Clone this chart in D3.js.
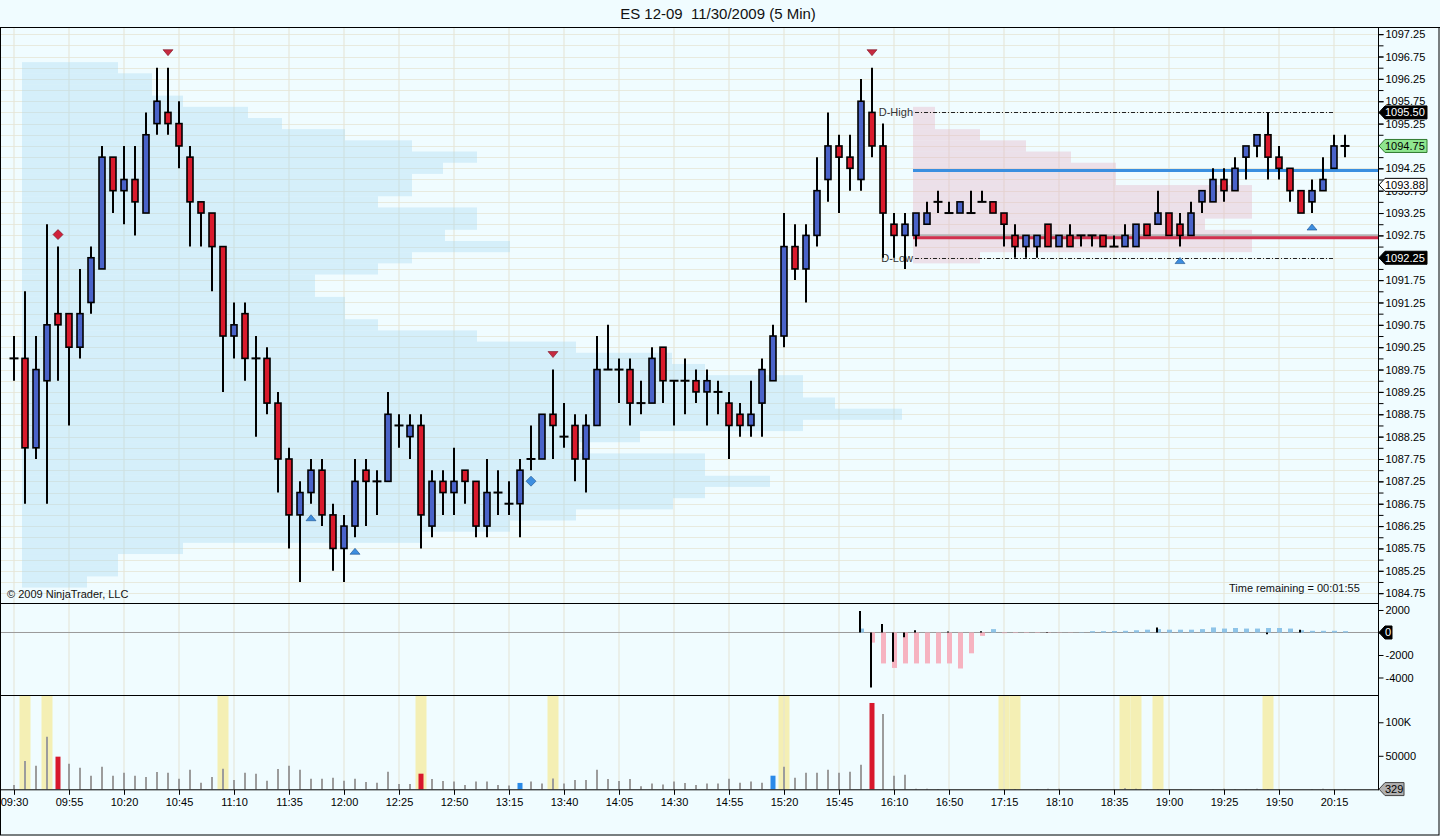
<!DOCTYPE html>
<html>
<head>
<meta charset="utf-8">
<script src="https://cdn.jsdelivr.net/npm/d3@7"></script>
<style>
  body { margin: 0; background: #f0fcff; }
  svg text { font-family: "Liberation Sans", Arial, sans-serif; }
</style>
</head>
<body>
<svg id="chart" width="1440" height="836"></svg>
<script>
// ES 12-09 5 min bars, 11/30/2009
const timeLabels = ["09:30","09:55","10:20","10:45","11:10","11:35","12:00","12:25","12:50","13:15","13:40","14:05","14:30","14:55","15:20","15:45","16:10","16:50","17:15","18:10","18:35","19:00","19:25","19:50","20:15"];

const opens = [1090,1090,1088,1089.5,1091,1091,1090.25,1091.25,1092,1094.5,
  1093.75,1094,1093.25,1095.25,1095.5,1095.25,1094.5,1093.5,1093.25,1092.5,
  1090.5,1091,1090,1090,1089,1087.75,1086.5,1087,1087.5,1086.5,
  1085.75,1086.25,1087.5,1087.25,1087.25,1088.5,1088.25,1088.5,1086.25,1087.25,
  1087,1087.5,1087.25,1086.25,1087,1086.75,1086.75,1087.75,1087.75,1088.75,
  1088.25,1088.5,1087.75,1088.5,1089.75,1089.75,1089.75,1089,1089,1090.25,
  1089.5,1089.5,1089.5,1089.25,1089.25,1089,1088.75,1088.5,1089,1089.5,
  1090.5,1092.5,1092,1092.75,1094,1094.75,1094.5,1094,1095.5,1094.75,
  1093,1092.75,1092.75,1093,1093.5,1093.25,1093.25,1093.25,1093.5,1093.5,
  1093.25,1092.75,1092.5,1092.5,1093,1092.5,1092.75,1092.75,1092.75,1092.75,
  1092.5,1092.5,1092.5,1093,1093,1093.25,1093,1092.75,1093.5,1093.5,
  1094,1093.75,1094.5,1094.75,1095,1094.5,1094.25,1093.75,1093.5,1093.75,
  1094.25,1094.75];
const highs = [1090.5,1091.5,1090.5,1093,1092.5,1091,1092,1092.5,1094.75,1094.5,
  1094.75,1094.75,1095.5,1096.5,1096.5,1095.75,1094.75,1093.5,1093.25,1092.5,
  1091.25,1091.25,1090.5,1090.25,1089.25,1088,1087.25,1087.75,1087.75,1086.75,
  1086.5,1087.75,1087.75,1087.5,1089.25,1088.75,1088.75,1088.75,1087.5,1087.5,
  1088,1087.5,1087.25,1087.75,1087.5,1087.25,1087.75,1088.5,1088.75,1089.75,
  1089,1088.75,1088.75,1090.5,1090.75,1090,1090,1089.5,1090.25,1090.25,
  1089.5,1090,1089.75,1089.75,1089.5,1089.25,1089,1089.5,1090,1090.75,
  1093.25,1093,1093,1094.5,1095.5,1095,1095,1096.25,1096.5,1095.25,
  1093.25,1093.25,1093.25,1093.5,1093.75,1093.5,1093.5,1093.75,1093.75,1093.5,
  1093.25,1093,1092.75,1092.75,1093,1092.75,1093,1092.75,1092.75,1092.75,
  1092.75,1093,1093,1093,1093.75,1093.25,1093.25,1093.5,1093.75,1094.25,
  1094.25,1094.5,1094.75,1095,1095.5,1094.75,1094.25,1093.75,1094,1094.5,
  1095,1095];
const lows = [1089.5,1086.75,1087.75,1086.75,1089.5,1088.5,1090,1091,1092,1093.25,
  1093,1092.75,1093.25,1095,1095,1094.25,1092.5,1092.5,1091.5,1089.25,
  1090,1089.5,1088.25,1088.75,1087,1085.75,1085,1086.75,1086.25,1085.25,
  1085,1086,1086.25,1086.5,1087.25,1088,1087.75,1085.75,1086,1086.5,
  1086.5,1086.75,1086,1086,1086.5,1086.5,1086,1087.5,1087.75,1087.75,
  1088,1087.25,1087,1088.5,1089.75,1089,1088.5,1088.75,1089,1089,
  1088.5,1088.75,1089,1088.5,1088.75,1087.75,1088.25,1088.25,1088.25,1089.5,
  1090.25,1091.75,1091.25,1092.5,1093.5,1093.25,1093.75,1093.75,1094.5,1092.25,
  1092.25,1092,1092.5,1093,1093.25,1093.25,1093.25,1093.25,1093.5,1093.25,
  1092.5,1092.25,1092.25,1092.25,1092.5,1092.5,1092.5,1092.5,1092.5,1092.5,
  1092.5,1092.5,1092.5,1092.75,1093,1092.75,1092.5,1092.75,1093.25,1093.5,
  1093.5,1093.75,1094,1094.5,1094,1094,1093.5,1093.25,1093.25,1093.75,
  1094.25,1094.5];
const closes = [1090,1088,1089.75,1090.75,1090.75,1090.25,1091,1092.25,1094.5,1093.75,
  1094,1093.5,1095,1095.75,1095.25,1094.75,1093.5,1093.25,1092.5,1090.5,
  1090.75,1090,1090,1089,1087.75,1086.5,1087,1087.5,1086.5,1085.75,
  1086.25,1087.25,1087.25,1087.25,1088.75,1088.5,1088.5,1086.5,1087.25,1087,
  1087.25,1087.25,1086.25,1087,1087,1086.75,1087.5,1087.75,1088.75,1088.5,
  1088.25,1087.75,1088.5,1089.75,1089.75,1089.75,1089,1089,1090,1089.5,
  1089.5,1089.5,1089.25,1089.5,1089.25,1088.5,1088.5,1088.75,1089.75,1090.5,
  1092.5,1092,1092.75,1093.75,1094.75,1094.5,1094.25,1095.75,1094.75,1093.25,
  1092.75,1093,1093.25,1093.25,1093.5,1093.25,1093.5,1093.25,1093.5,1093.25,
  1093,1092.5,1092.75,1092.75,1092.5,1092.75,1092.5,1092.75,1092.75,1092.5,
  1092.5,1092.75,1093,1092.75,1093.25,1092.75,1092.75,1093.25,1093.75,1094,
  1093.75,1094.25,1094.75,1095,1094.5,1094.25,1093.75,1093.25,1093.75,1094,
  1094.75,1094.75];

const volumes = [6400,42200,35200,78500,48700,38200,32200,20300,33700,20300,
  24800,20300,18400,25800,24800,15800,29300,9900,18400,30700,
  13900,24800,23300,12800,30200,35200,29000,15800,15800,17300,
  12800,15800,11000,9900,26300,7900,7900,23300,15300,12300,
  11500,6400,11500,11500,6400,5500,9500,11500,8500,16300,
  8500,13900,13900,29000,15300,12300,15300,4500,8500,7000,
  11500,9500,6400,8500,8500,15800,9900,11500,9900,20300,
  33700,17300,24800,24800,29000,24800,26300,36700,128800,112400,
  20300,21800,900,700,300,200,200,150,200,250,
  600,300,200,300,800,700,200,150,200,250,
  600,1500,900,400,300,250,200,300,200,500,
  700,600,500,700,400,300,200,250,300,800,
  200,329];
const volRed = [4, 37, 78];
const volBlue = [46, 69];
const volBands = [1, 3, 19, 37, 49, 70, 90, 91, 101, 102, 104, 114];

// delta panel, starts at bar 77
const deltaStart = 77;
const deltaHist = [350,-900,-2750,-3150,-2750,-2750,-2750,-2750,-2750,-3200,
  -1850,-300,300,-60,-50,-40,-40,-30,-20,-20,
  30,120,120,130,150,200,250,300,250,250,
  250,300,450,350,400,350,350,400,400,350,
  200,150,150,150,120];
const deltaNet = [1900,-4900,750,-2600,-430,200,0,0,80,0,
  0,100,0,0,0,0,0,50,0,0,
  0,0,0,0,0,0,0,450,0,0,
  0,0,0,0,0,0,0,-150,0,0,
  250,0,0,0,0];

const markDown = [14, 49, 78];
const markUp = [27, 31, 106, 118];
const diamondRed = [4];
const diamondBlue = [47];

// volume at price, day session (blue) and evening session (pink)
const prof1Price = [1096.5,1096.25,1096,1095.75,1095.5,1095.25,1095,1094.75,1094.5,1094.25,
  1094,1093.75,1093.5,1093.25,1093,1092.75,1092.5,1092.25,1092,1091.75,
  1091.5,1091.25,1091,1090.75,1090.5,1090.25,1090,1089.75,1089.5,1089.25,
  1089,1088.75,1088.5,1088.25,1088,1087.75,1087.5,1087.25,1087,1086.75,
  1086.5,1086.25,1086,1085.75,1085.5,1085.25,1085];
const prof1Vol = [9600,13000,13000,16100,22600,26000,32300,39000,45500,42100,
  39000,39000,35600,45500,45500,42300,48800,39000,35600,29300,
  29300,32300,32300,35600,45500,55400,65000,68300,78100,78100,
  81300,88000,78100,61800,55400,68300,68300,74800,68300,65100,
  55400,48800,39800,16100,9600,9600,6500];
const prof2Price = [1095.5,1095.25,1095,1094.75,1094.5,1094.25,1094,1093.75,1093.5,1093.25,
  1093,1092.75,1092.5,1092.25];
const prof2Vol = [2200,2200,6700,11300,15800,20300,20300,33900,33900,33900,
  29200,33900,33900,6700];
const prof2Start = 82;

const dHigh = 1095.5, dLow = 1092.25;
const blueLevel = 1094.2, grayLevel = 1092.75, redLevel = 1092.7;
const lastPrice = 1094.75, markPrice = 1093.88;

// ---------------------------------------------------------------
const svg = d3.select("#chart");
const W = 1440, axisX = 1378;
const top0 = 27, priceBottom = 603, deltaBottom = 695, volBase = 789.3;

const x = d3.scaleLinear().domain([0, 121]).range([14, 1345]);
const yP = d3.scaleLinear().domain([1084.53, 1097.41]).range([priceBottom, top0]);
const yD = d3.scaleLinear().domain([-5556, 2622]).range([deltaBottom, priceBottom]);
const yV = d3.scaleLinear().domain([0, 140700]).range([volBase, deltaBottom]);
const pw = d3.scaleLinear().domain([0, 100000]).range([0, 1000]);
const step = yP(1097) - yP(1097.25);

svg.append("rect").attr("width", W).attr("height", 836).attr("fill", "#f0fcff");

// title
svg.append("text").attr("x", 718).attr("y", 19).attr("text-anchor", "middle")
  .style("font-size", "15px").style("white-space", "pre").attr("fill", "#111")
  .text("ES 12-09  11/30/2009 (5 Min)");

// volume bands (yellow)
svg.selectAll("rect.band").data(volBands).enter().append("rect")
  .attr("x", d => x(d) - 5.5).attr("width", 11)
  .attr("y", deltaBottom).attr("height", volBase - deltaBottom)
  .attr("fill", "#f4efb4");

// grid
const labelIdx = d3.range(0, 122, 5);
svg.selectAll("line.vg").data(labelIdx).enter().append("line")
  .attr("x1", d => x(d)).attr("x2", d => x(d)).attr("y1", top0).attr("y2", volBase)
  .attr("stroke", "#e4e3d4").attr("stroke-width", 1);
svg.selectAll("line.hg").data(d3.range(1084.75, 1097.3, 0.25)).enter().append("line")
  .attr("x1", 0).attr("x2", axisX).attr("y1", d => Math.round(yP(d)) + 0.5).attr("y2", d => Math.round(yP(d)) + 0.5)
  .attr("stroke", "#e6e5d6").attr("stroke-opacity", 0.8);

// profiles (semi transparent so the grid shows through)
svg.selectAll("rect.p1").data(prof1Price).enter().append("rect")
  .attr("x", 22).attr("y", d => yP(d) - step / 2)
  .attr("width", (d, i) => pw(prof1Vol[i])).attr("height", step)
  .attr("fill", "#a6d8f2").attr("fill-opacity", 0.36);
svg.selectAll("rect.p2").data(prof2Price).enter().append("rect")
  .attr("x", x(prof2Start) - 3).attr("y", d => yP(d) - step / 2)
  .attr("width", (d, i) => pw(prof2Vol[i])).attr("height", step)
  .attr("fill", "#e4b4c4").attr("fill-opacity", 0.38);

// session levels
const lx0 = x(prof2Start) - 3;
svg.append("line").attr("x1", lx0).attr("x2", axisX).attr("y1", yP(blueLevel)).attr("y2", yP(blueLevel))
  .attr("stroke", "#3a8fe0").attr("stroke-width", 3);
svg.append("line").attr("x1", lx0).attr("x2", axisX).attr("y1", yP(grayLevel)).attr("y2", yP(grayLevel))
  .attr("stroke", "#b4b4b4").attr("stroke-width", 2.5);
svg.append("line").attr("x1", lx0).attr("x2", axisX).attr("y1", yP(redLevel)).attr("y2", yP(redLevel))
  .attr("stroke", "#d2304e").attr("stroke-width", 3);
[[dHigh, "D-High"], [dLow, "D-Low"]].forEach(([p, t]) => {
  svg.append("line").attr("x1", x(prof2Start) - 1).attr("x2", x(120))
    .attr("y1", Math.round(yP(p)) + 0.5).attr("y2", Math.round(yP(p)) + 0.5)
    .attr("stroke", "#222").attr("stroke-width", 1).attr("stroke-dasharray", "4,2,1,2");
  svg.append("text").attr("x", x(prof2Start) - 3).attr("y", yP(p) + 4)
    .attr("text-anchor", "end").style("font-size", "11px").attr("fill", "#333").text(t);
});

// candles
const bars = d3.range(opens.length);
svg.selectAll("line.wick").data(bars).enter().append("line")
  .attr("x1", d => x(d)).attr("x2", d => x(d))
  .attr("y1", d => yP(highs[d])).attr("y2", d => yP(lows[d]))
  .attr("stroke", "#000").attr("stroke-width", 2);
svg.selectAll("rect.body").data(bars.filter(d => opens[d] !== closes[d])).enter().append("rect")
  .attr("x", d => x(d) - 3).attr("width", 6)
  .attr("y", d => yP(Math.max(opens[d], closes[d])))
  .attr("height", d => Math.abs(yP(opens[d]) - yP(closes[d])))
  .attr("fill", d => closes[d] > opens[d] ? "#4a63c9" : "#da1a2c")
  .attr("stroke", "#000").attr("stroke-width", 1.6);
svg.selectAll("line.doji").data(bars.filter(d => opens[d] === closes[d])).enter().append("line")
  .attr("x1", d => x(d) - 4.5).attr("x2", d => x(d) + 4.5)
  .attr("y1", d => yP(closes[d])).attr("y2", d => yP(closes[d]))
  .attr("stroke", "#000").attr("stroke-width", 2);

// markers
svg.selectAll("path.md").data(markDown).enter().append("path")
  .attr("d", d => { const cx = x(d), cy = yP(highs[d]) - 15; return `M${cx-5},${cy-3}L${cx+5},${cy-3}L${cx},${cy+3}Z`; })
  .attr("fill", "#c62a40").attr("stroke", "#7a1020").attr("stroke-width", 0.6);
svg.selectAll("path.mu").data(markUp).enter().append("path")
  .attr("d", d => { const cx = x(d), cy = yP(lows[d]) + 14; return `M${cx-5},${cy+3}L${cx+5},${cy+3}L${cx},${cy-3}Z`; })
  .attr("fill", "#3d8ee0").attr("stroke", "#1b4f8c").attr("stroke-width", 0.6);
svg.selectAll("path.dr").data(diamondRed).enter().append("path")
  .attr("d", d => { const cx = x(d), cy = yP(highs[d]) - 12; return `M${cx},${cy-5}L${cx+5},${cy}L${cx},${cy+5}L${cx-5},${cy}Z`; })
  .attr("fill", "#d0203a").attr("stroke", "#6a0a18").attr("stroke-width", 0.6);
svg.selectAll("path.db").data(diamondBlue).enter().append("path")
  .attr("d", d => { const cx = x(d), cy = yP(lows[d]) + 11; return `M${cx},${cy-5}L${cx+5},${cy}L${cx},${cy+5}L${cx-5},${cy}Z`; })
  .attr("fill", "#3d8ee0").attr("stroke", "#1b4f8c").attr("stroke-width", 0.6);

// delta panel
svg.append("line").attr("x1", 0).attr("x2", axisX).attr("y1", yD(0)).attr("y2", yD(0))
  .attr("stroke", "#9a9a9a").attr("stroke-width", 1);
const dIdx = d3.range(deltaHist.length);
svg.selectAll("rect.dh").data(dIdx.filter(i => deltaHist[i] !== 0)).enter().append("rect")
  .attr("x", i => x(deltaStart + i) - 2).attr("width", 5)
  .attr("y", i => yD(Math.max(0, deltaHist[i])))
  .attr("height", i => Math.abs(yD(deltaHist[i]) - yD(0)))
  .attr("fill", i => deltaHist[i] < 0 ? "#f6b3c0" : "#8ec4e8");
svg.selectAll("line.dn").data(dIdx.filter(i => deltaNet[i] !== 0)).enter().append("line")
  .attr("x1", i => x(deltaStart + i) - 1).attr("x2", i => x(deltaStart + i) - 1)
  .attr("y1", yD(0)).attr("y2", i => yD(deltaNet[i]))
  .attr("stroke", "#000").attr("stroke-width", 2);

// volume panel
svg.selectAll("line.vol").data(bars.filter(i => !volRed.includes(i) && !volBlue.includes(i))).enter().append("line")
  .attr("x1", i => x(i)).attr("x2", i => x(i))
  .attr("y1", volBase).attr("y2", i => yV(volumes[i]))
  .attr("stroke", "#9c9c9c").attr("stroke-width", 2);
svg.selectAll("rect.volh").data(volRed.concat(volBlue)).enter().append("rect")
  .attr("x", i => x(i) - 2.5).attr("width", 5)
  .attr("y", i => yV(volumes[i])).attr("height", i => volBase - yV(volumes[i]))
  .attr("fill", i => volRed.includes(i) ? "#d8182c" : "#2a8ae8");

// frame and panel separators
svg.append("line").attr("x1", 0).attr("x2", W).attr("y1", top0 + 0.5).attr("y2", top0 + 0.5).attr("stroke", "#000");
[priceBottom, deltaBottom].forEach(yy => svg.append("line").attr("x1", 0).attr("x2", axisX)
  .attr("y1", yy + 0.5).attr("y2", yy + 0.5).attr("stroke", "#000"));
svg.append("rect").attr("x", 0.5).attr("y", top0 + 0.5).attr("width", W - 1.5).attr("height", 836 - top0 - 1.5)
  .attr("fill", "none").attr("stroke", "#000");

// axes
const fmtAxis = g => {
  g.select(".domain").attr("stroke", "#000");
  g.selectAll(".tick line").attr("stroke", "#000");
  g.selectAll("text").style("font-size", "11px").attr("fill", "#000").style("font-family", '"Liberation Sans", Arial, sans-serif');
};
svg.append("line").attr("x1", axisX + 0.5).attr("x2", axisX + 0.5).attr("y1", top0).attr("y2", volBase + 1).attr("stroke", "#000");
svg.append("g").attr("transform", `translate(${axisX + 0.5},0)`)
  .call(d3.axisRight(yP).tickValues(d3.range(1084.75, 1097.3, 0.25)).tickSize(5).tickFormat(""))
  .call(g => g.select(".domain").remove()).call(fmtAxis);
svg.append("g").attr("transform", `translate(${axisX + 0.5},0)`)
  .call(d3.axisRight(yP).tickValues(d3.range(1084.75, 1097.3, 0.5)).tickSize(5).tickPadding(2).tickFormat(d3.format(".2f")))
  .call(g => g.select(".domain").remove()).call(fmtAxis);
svg.append("g").attr("transform", `translate(${axisX + 0.5},0)`)
  .call(d3.axisRight(yD).tickValues([2000, 0, -2000, -4000]).tickSize(5).tickPadding(2).tickFormat(d => String(d)))
  .call(g => g.select(".domain").remove()).call(fmtAxis);
svg.append("g").attr("transform", `translate(${axisX + 0.5},0)`)
  .call(d3.axisRight(yV).tickValues([50000, 100000]).tickSize(5).tickPadding(2)
    .tickFormat(d => d >= 100000 ? (d / 1000) + "K" : String(d)))
  .call(g => g.select(".domain").remove()).call(fmtAxis);
svg.append("g").attr("transform", `translate(0,${volBase + 0.5})`)
  .call(d3.axisBottom(x).tickValues(labelIdx).tickSize(5).tickPadding(3)
    .tickFormat((d, i) => timeLabels[i]))
  .call(fmtAxis)
  .call(g => g.select(".domain").attr("d", `M0,0H${axisX + 0.5}`));

// price tags on the right axis
function tag(yPos, label, fill, color, stroke, w) {
  const x0 = axisX + 1, h = 6.5;
  svg.append("path")
    .attr("d", `M${x0},${yPos}L${x0 + 6},${yPos - h}L${x0 + w},${yPos - h}L${x0 + w},${yPos + h}L${x0 + 6},${yPos + h}Z`)
    .attr("fill", fill).attr("stroke", stroke).attr("stroke-width", 1);
  svg.append("text").attr("x", x0 + 6).attr("y", yPos + 4).style("font-size", "11px")
    .attr("fill", color).text(label);
}
tag(yP(dHigh), d3.format(".2f")(dHigh), "#000", "#fff", "#000", 48);
tag(yP(lastPrice), d3.format(".2f")(lastPrice), "#8fe68f", "#000", "#2f7a2f", 48);
tag(yP(markPrice), d3.format(".2f")(markPrice), "#fff", "#000", "#000", 48);
tag(yP(dLow), d3.format(".2f")(dLow), "#000", "#fff", "#000", 48);
tag(yD(0), "0", "#000", "#fff", "#000", 13);
tag(yV(volumes[volumes.length - 1]), String(volumes[volumes.length - 1]), "#b0b0b0", "#000", "#444", 25);

// texts
svg.append("text").attr("x", 7).attr("y", 598).style("font-size", "11px").attr("fill", "#111")
  .text("\u00A9 2009 NinjaTrader, LLC");
svg.append("text").attr("x", 1229).attr("y", 592).style("font-size", "11px").attr("fill", "#111")
  .text("Time remaining = 00:01:55");
</script>
</body>
</html>
